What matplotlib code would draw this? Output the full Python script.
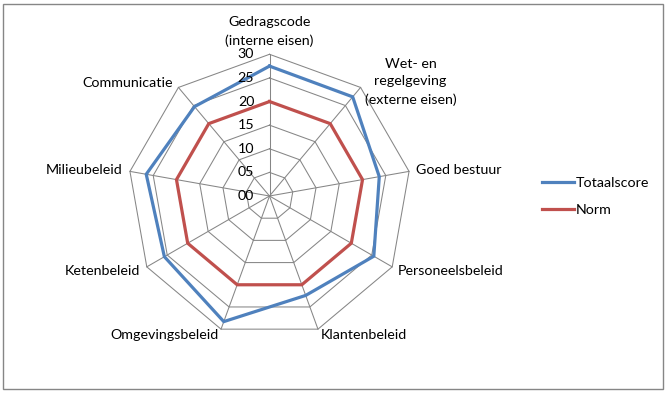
import numpy as np
import matplotlib
matplotlib.use('Agg')
import matplotlib.pyplot as plt
from matplotlib.patches import Rectangle

categories = ["Gedragscode\n(interne eisen)", "Wet- en\nregelgeving\n(externe eisen)",
              "Goed bestuur", "Personeelsbeleid", "Klantenbeleid", "Omgevingsbeleid",
              "Ketenbeleid", "Milieubeleid", "Communicatie"]
totaalscore = [27.5, 27.4, 23.6, 25.5, 22.4, 28.3, 25.7, 26.5, 24.7]
norm = [20, 20, 20, 20, 20, 20, 20, 20, 20]
tick_values = [0, 5, 10, 15, 20, 25, 30]
tick_labels = ["00", "05", "10", "15", "20", "25", "30"]

FONT = "Lato"
FS = 10.3
plt.rcParams['font.family'] = [FONT, 'DejaVu Sans']

W, H = 667, 393
fig = plt.figure(figsize=(W / 100, H / 100), dpi=100)
fig.patch.set_facecolor('white')

cx, cy, R = 269.5, 196.0, 141.7
ax = fig.add_axes([(cx - R) / W, (H - cy - R) / H, 2 * R / W, 2 * R / H], projection='polar')
ax.set_theta_zero_location('N')
ax.set_theta_direction(-1)
ax.set_ylim(0, tick_values[-1])
ax.patch.set_alpha(0)
ax.grid(False)
ax.spines['polar'].set_visible(False)
ax.set_xticks([])
ax.set_yticks([])

n = len(categories)
angles = np.linspace(0, 2 * np.pi, n, endpoint=False)
closed = np.append(angles, angles[0])

gcol = '#868686'
for v in tick_values[1:]:
    ax.plot(closed, [v] * (n + 1), color=gcol, lw=0.75, clip_on=False, zorder=1)
for a in angles:
    ax.plot([a, a], [0, tick_values[-1]], color=gcol, lw=0.75, clip_on=False, zorder=1)

ax.plot(closed, totaalscore + totaalscore[:1], color='#4F81BD', lw=2.3, label='Totaalscore',
        clip_on=False, zorder=3, solid_joinstyle='miter')
ax.plot(closed, norm + norm[:1], color='#C0504D', lw=2.3, label='Norm',
        clip_on=False, zorder=4, solid_joinstyle='miter')

for v, t in zip(tick_values, tick_labels):
    ax.annotate(t, xy=(0, v), xytext=(-11, 0), textcoords='offset points',
                ha='right', va='center', fontsize=FS, color='black')

label_style = [
    (0, 5.5, 'center', 'bottom'),
    (3, 4, 'left', 'center'),
    (5, 1, 'left', 'center'),
    (4.2, -2.8, 'left', 'center'),
    (2, -4.2, 'left', 'center'),
    (-2, -4.2, 'right', 'center'),
    (-4.9, -2.8, 'right', 'center'),
    (-5.3, 1, 'right', 'center'),
    (-3.7, 3.5, 'right', 'center'),
]
for a, lab, (dx, dy, ha, va) in zip(angles, categories, label_style):
    ax.annotate(lab, xy=(a, tick_values[-1]), xytext=(dx, dy), textcoords='offset points',
                ha=ha, va=va, multialignment='center', fontsize=FS, color='black',
                linespacing=1.55)

handles, labels = ax.get_legend_handles_labels()
fig.legend(handles, labels, loc='center left', bbox_to_anchor=(541.7 / W, 0.5),
           frameon=False, fontsize=FS, handlelength=2.25, handletextpad=0.15,
           labelspacing=1.1, borderpad=0, borderaxespad=0)

fig.add_artist(Rectangle((3 / W, (H - 389.3) / H), (663.3 - 3) / W, (389.3 - 4) / H,
                         transform=fig.transFigure, fill=False, edgecolor=gcol, lw=1.0))

fig.savefig('out.png', dpi=100, facecolor='white')
